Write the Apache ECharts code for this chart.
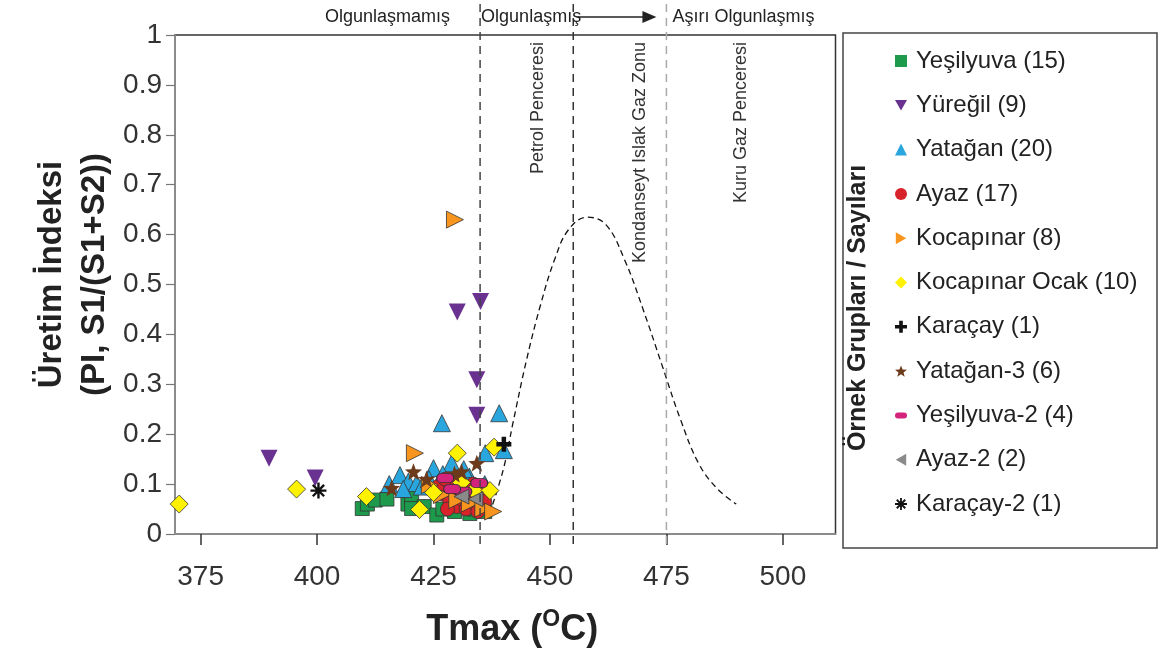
<!DOCTYPE html>
<html><head><meta charset="utf-8">
<script src="https://cdn.jsdelivr.net/npm/echarts@6/dist/echarts.min.js"></script>
<style>html,body{margin:0;padding:0;background:#fff}#c{width:1161px;height:655px}</style>
</head><body><div id="c"></div>
<script>
// ---- data (Tmax °C, PI) ----
const yesilyuva = [[409.7,0.051],[410.8,0.06],[412.5,0.068],[415,0.07],[419.5,0.06],[420.3,0.075],[420.3,0.051],[423,0.055],[425.7,0.038],[427,0.05],[429.5,0.045],[431.5,0.058],[432.8,0.041],[434,0.05],[436,0.045]];
const yuregil = [[389.7,0.152],[399.6,0.112],[430.1,0.445],[435.1,0.466],[434.3,0.309],[434.3,0.238],[428,0.075],[431,0.06],[433,0.095]];
const yatagan = [[426.8,0.222],[439.1,0.242],[440.1,0.168],[436.1,0.162],[428.9,0.142],[425,0.132],[417.8,0.118],[419.6,0.105],[421.4,0.102],[432.7,0.115],[415.5,0.1],[422.5,0.095],[427,0.12],[430.5,0.11],[436,0.1],[424,0.11],[429,0.095],[431.5,0.13],[418.5,0.09],[433.5,0.085]];
const ayaz = [[427,0.08],[428.5,0.065],[430,0.055],[431,0.07],[432,0.05],[433,0.075],[434,0.06],[435,0.08],[436,0.065],[429,0.1],[426,0.095],[432.5,0.09],[430.5,0.085],[428,0.05],[434.5,0.045],[427.5,0.11],[433.5,0.1]];
const kocapinar = [[429.6,0.63],[421,0.162],[424.2,0.098],[426.8,0.078],[430.1,0.068],[432.8,0.061],[435.7,0.051],[437.8,0.045]];
const kocapinarOcak = [[370.4,0.06],[395.6,0.09],[410.6,0.075],[422,0.049],[430.1,0.162],[438,0.174],[431,0.103],[425,0.083],[433.7,0.087],[437.1,0.087]];
const karacay = [[440.1,0.18]];
const yatagan3 = [[434.3,0.142],[431,0.125],[420.7,0.125],[416,0.092],[423.5,0.11],[429.5,0.12]];
const yesilyuva2 = [[427.5,0.112],[434.8,0.102],[431.4,0.085],[429,0.09]];
const ayaz2 = [[431,0.075],[434,0.07]];
const karacay2 = [[400.3,0.087]];
const curve = [[437,0.04],[440,0.13],[442,0.22],[445,0.35],[448,0.46],[451,0.55],[454,0.61],[458,0.635],[462,0.62],[466,0.55],[470,0.45],[474,0.34],[478,0.23],[482,0.14],[486,0.09],[490,0.06]];
const xTicks = [375,400,425,450,475,500];
const zoneLines = [435,455,475];
const names = ['Yeşilyuva (15)','Yüreğil (9)','Yatağan (20)','Ayaz (17)','Kocapınar (8)','Kocapınar Ocak (10)','Karaçay (1)','Yatağan-3 (6)','Yeşilyuva-2 (4)','Ayaz-2 (2)','Karaçay-2 (1)'];

const DOWN='path://M0,0L2,0L1,1.732Z', RIGHT='path://M0,0L1.732,1L0,2Z', LEFT='path://M1.732,0L0,1L1.732,2Z';
const PLUS='path://M3.5,0H6.5V3.5H10V6.5H6.5V10H3.5V6.5H0V3.5H3.5Z';
const STAR='path://M1,0L1.247,0.66L1.951,0.691L1.399,1.13L1.588,1.809L1,1.42L0.412,1.809L0.601,1.13L0.049,0.691L0.753,0.66Z';
const AST='path://M0.85,0L1.15,0L1.15,2L0.85,2Z M0,0.85L2,0.85L2,1.15L0,1.15Z M1.601,0.187L1.813,0.399L0.399,1.813L0.187,1.601Z M0.187,0.399L0.399,0.187L1.813,1.601L1.601,1.813Z';
const PILL='path://M3,0H9A3,3 0 0 1 9,6H3A3,3 0 0 1 3,0Z';

const sets = [
 {d:yesilyuva, sym:'rect', size:14, color:'#1e9a4c'},
 {d:yuregil, sym:DOWN, size:17, color:'#6a3290', bw:0},
 {d:yatagan, sym:'triangle', size:17, color:'#2aa6de'},
 {d:ayaz, sym:'circle', size:14, color:'#d9232a'},
 {d:kocapinar, sym:RIGHT, size:17, color:'#f7951e'},
 {d:kocapinarOcak, sym:'diamond', size:18, color:'#fff200'},
 {d:karacay, sym:PLUS, size:15, color:'#111', bw:0},
 {d:yatagan3, sym:STAR, size:17, color:'#6b3b1c', bw:0},
 {d:yesilyuva2, sym:PILL, size:[17,9], color:'#d4237a'},
 {d:ayaz2, sym:LEFT, size:15, color:'#8a8a8a'},
 {d:karacay2, sym:AST, size:16, color:'#111', bw:0}
];
const FONT='"Liberation Sans", Arial, sans-serif';
const chart = echarts.init(document.getElementById('c'), null, {renderer:'canvas'});
const series = sets.map((s,i)=>({
  name:names[i], type:'scatter', data:s.d, symbol:s.sym, symbolSize:s.size,
  itemStyle:{color:s.color, borderColor:'#333', borderWidth: s.bw===undefined?0.8:s.bw, opacity:1},
  emphasis:{disabled:true}, z:3
}));
series.push({type:'line', data:curve, smooth:0.4, symbol:'none', silent:true,
  lineStyle:{color:'#111', width:1.3, type:[6,4]}, z:2});

chart.setOption({
  animation:false,
  grid:{left:175, right:325.5, top:35, bottom:121, show:true, borderColor:'#333', borderWidth:1.5},
  xAxis:{type:'value', min:369.5, max:511.3,
    axisLine:{show:true, onZero:false, lineStyle:{color:'#999', width:1.5}},
    axisTick:{show:true, customValues:xTicks, length:11, lineStyle:{color:'#333', width:1.5}},
    axisLabel:{customValues:xTicks, fontSize:28, color:'#333', margin:29, fontFamily:FONT},
    splitLine:{show:false}},
  yAxis:{type:'value', min:0, max:1, interval:0.1,
    axisLine:{show:true, onZero:false, lineStyle:{color:'#999', width:1.5}},
    axisTick:{show:true, length:9, lineStyle:{color:'#777', width:1.2}},
    axisLabel:{fontSize:28, color:'#333', margin:13, fontFamily:FONT,
      formatter:v=>(v===0?'0':v===1?'1':v.toFixed(1))},
    splitLine:{show:false}},
  legend:{orient:'vertical', left:890, top:44, itemGap:20.3, itemWidth:12, itemHeight:12,
    textStyle:{fontSize:24, color:'#222', fontFamily:FONT, padding:[0,0,0,4]},
    data:names.map((n,i)=>({name:n, icon:typeof sets[i].sym==='string'?sets[i].sym:'rect',
      itemStyle:{color:sets[i].color, borderWidth:0}})),
    selectedMode:false},
  series
});

function draw(){
  const px = v => chart.convertToPixel({xAxisIndex:0}, v);
  const py = v => chart.convertToPixel({yAxisIndex:0}, v);
  const g = [];
  const yTop = 4, yBot = py(0)+11;
  const lineCols = ['#444','#333','#aaa'];
  zoneLines.forEach((z,i)=>g.push({type:'line', shape:{x1:px(z),y1:yTop,x2:px(z),y2:yBot}, z:10,
    style:{stroke:lineCols[i], lineWidth:1.5, lineDash:[8,6]}}));
  const tf = {fontSize:18, fill:'#222', fontFamily:FONT};
  g.push({type:'text', x:px(435)-30, y:17, z:10, style:Object.assign({text:'Olgunlaşmamış', align:'right', verticalAlign:'middle'}, tf)});
  g.push({type:'text', x:px(435)+1, y:17, z:10, style:Object.assign({text:'Olgunlaşmış', align:'left', verticalAlign:'middle'}, tf)});
  g.push({type:'line', shape:{x1:px(455)+4,y1:17,x2:px(475)-22,y2:17}, z:10, style:{stroke:'#222', lineWidth:1.5}});
  g.push({type:'polygon', shape:{points:[[px(475)-24,11],[px(475)-10,17],[px(475)-24,23]]}, z:10, style:{fill:'#222'}});
  g.push({type:'text', x:px(475)+6, y:17, z:10, style:Object.assign({text:'Aşırı Olgunlaşmış', align:'left', verticalAlign:'middle'}, tf)});
  const vf = {fontSize:18, fill:'#333', fontFamily:FONT, align:'right', verticalAlign:'middle'};
  [['Petrol Penceresi',447.5],['Kondanseyt Islak Gaz Zonu',469.4],['Kuru Gaz Penceresi',491]].forEach(([t,v])=>
    g.push({type:'text', x:px(v), y:42, rotation:Math.PI/2, z:10, style:Object.assign({text:t}, vf)}));
  // axis titles
  g.push({type:'text', x:73, y:py(0.52), rotation:Math.PI/2, z:10,
    style:{text:'Üretim İndeksi\n(PI, S1/(S1+S2))', fontSize:33, fontWeight:'bold', lineHeight:43, fill:'#222', fontFamily:FONT, align:'center', verticalAlign:'middle'}});
  g.push({type:'text', x:(px(369.5)+px(511.3))/2 + 7, y:628, z:10,
    style:{rich:{a:{fontSize:36, fontWeight:'bold', fill:'#222', fontFamily:FONT, lineHeight:40, verticalAlign:'bottom'},
                 s:{fontSize:23, fontWeight:'bold', fill:'#222', fontFamily:FONT, lineHeight:40, verticalAlign:'top', padding:[0,0,0,0]}},
      text:'{a|Tmax (}{s|O}{a|C)}', align:'center', verticalAlign:'middle'}});
  // legend box
  g.push({type:'rect', shape:{x:843, y:33, width:314, height:515}, z:0, style:{fill:'none', stroke:'#444', lineWidth:1.5}});
  g.push({type:'text', x:858, y:308, rotation:Math.PI/2, z:10,
    style:{text:'Örnek Grupları / Sayıları', fontSize:25, fontWeight:'bold', fill:'#222', fontFamily:FONT, align:'center', verticalAlign:'middle'}});
  chart.setOption({graphic:g});
}
draw();
</script></body></html>
